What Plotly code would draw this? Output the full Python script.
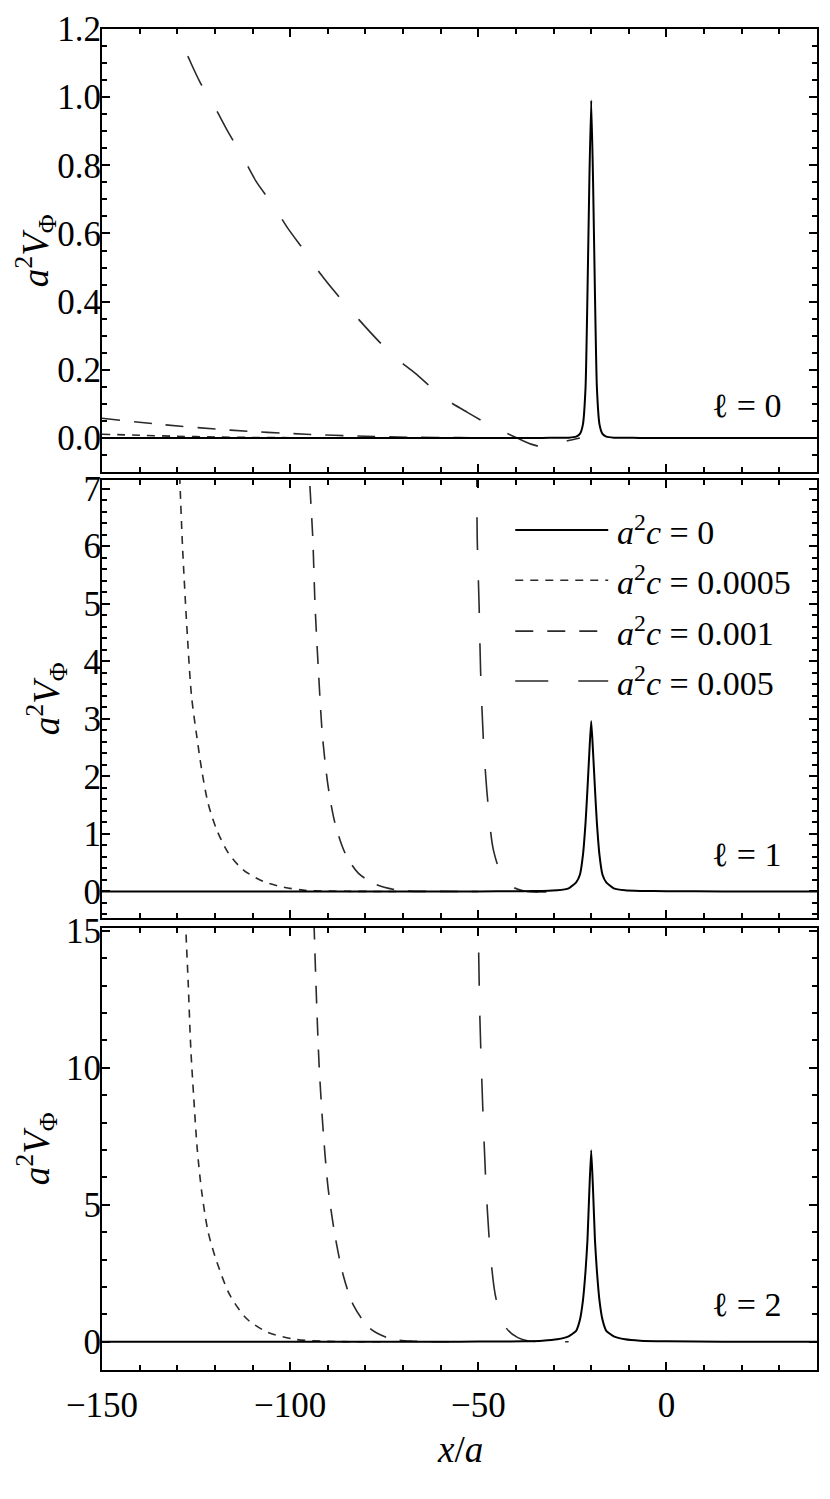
import plotly.graph_objects as go
from plotly.subplots import make_subplots

# ---- data ----
# a^2 c = 0 curves (barrier peak at x/a = -20)
x_peak = [-150, -100, -70, -55, -45, -38, -33, -29, -26, -24, -23, -22.2, -21.5, -21.0, -20.5,
          -20, -19.5, -19.0, -18.5, -17.8, -17, -16, -14, -11, -7, 0, 15, 40]
v0_l0 = [0, 0, 0, 0, 0, 0, 0.0002, 0.0005, 0.001, 0.004, 0.012, 0.04, 0.15, 0.42, 0.75,
         0.99, 0.75, 0.42, 0.15, 0.04, 0.012, 0.004, 0.001, 0.0005, 0.0002, 0, 0, 0]
v0_l1 = [0, 0.0005, 0.001, 0.001, 0.002, 0.004, 0.01, 0.02, 0.055, 0.16, 0.29, 0.63, 1.2, 1.78, 2.41,
         2.96, 2.41, 1.78, 1.2, 0.63, 0.29, 0.16, 0.055, 0.02, 0.01, 0.004, 0.001, 0]
v0_l2 = [0, 0.001, 0.0025, 0.005, 0.01, 0.02, 0.04, 0.09, 0.2, 0.4, 0.8, 1.5, 2.6, 3.7, 5.5,
         6.99, 5.5, 3.7, 2.6, 1.5, 0.8, 0.4, 0.2, 0.09, 0.04, 0.02, 0.005, 0.001]

# l = 0, a^2 c > 0
x_l0_c1 = [-150, -140, -130, -120, -110, -100, -90, -70, -40]
v_l0_c1 = [0.011, 0.008, 0.005, 0.003, 0.0015, 0.0008, 0.0003, 0.0001, 0]
x_l0_c2 = [-150, -134.6, -115.9, -95.8, -80, -67, -55, -45]
v_l0_c2 = [0.058, 0.040, 0.023, 0.011, 0.005, 0.002, 0.001, 0]
x_l0_c3 = [-134, -130.4, -127.1, -124.0, -120.0, -116.5, -112.6, -109.0, -104.4, -100.6, -95.8,
           -91.7, -86.7, -81.8, -76.3, -71.3, -66.8, -59.6, -52.9, -46.6, -39.7, -36, -33, -30,
           -27.5, -25, -23]
v_l0_c3 = [1.29, 1.2, 1.118, 1.045, 0.970, 0.898, 0.825, 0.752, 0.681, 0.615, 0.543,
           0.478, 0.410, 0.348, 0.282, 0.229, 0.190, 0.121, 0.075, 0.036, 0.0, -0.018, -0.026, -0.022,
           -0.012, -0.005, 0]

# l = 1
x_l1_c1 = [-129.85, -129.3, -128.6, -127.3, -126.2, -124.8, -123.5, -121.8, -119.5, -116.4, -112.5,
           -107.1, -101.8, -95.6, -85, -70]
v_l1_c1 = [8.0, 7.12, 5.99, 4.43, 3.39, 2.69, 2.11, 1.53, 1.07, 0.667, 0.377, 0.174, 0.076, 0.017,
           0.003, 0]
x_l1_c2 = [-95.0, -94.8, -94.0, -93.4, -92.5, -91.4, -89.9, -88.1, -85.4, -81.9, -77.0, -70.8, -60, -50]
v_l1_c2 = [7.6, 7.12, 6.16, 5.0, 3.85, 2.69, 1.82, 1.19, 0.667, 0.319, 0.116, 0.017, 0.002, 0]
x_l1_c3 = [-50.5, -50.4, -50.3, -49.8, -49.4, -48.7, -47.6, -46.0, -43.4, -40.3, -36.7, -33, -29, -25]
v_l1_c3 = [7.6, 7.12, 6.16, 5.0, 3.85, 2.69, 1.65, 0.724, 0.233, 0.059, -0.005, -0.01, -0.005, 0]

# l = 2
x_l2_c1 = [-128.0, -127.7, -127.1, -126.4, -125.6, -124.7, -123.5, -121.8, -119.5, -116.0, -111.6,
           -106.2, -99.2, -91.2, -75]
v_l2_c1 = [16.5, 15.0, 13.12, 10.69, 8.87, 7.05, 5.47, 4.01, 2.92, 1.70, 0.85, 0.36, 0.10, 0.02, 0]
x_l2_c2 = [-93.9, -93.6, -93.0, -92.3, -91.2, -89.9, -88.1, -85.9, -83.2, -78.8, -73.5, -67.3, -55]
v_l2_c2 = [16.5, 15.0, 12.5, 10.08, 7.65, 5.59, 3.89, 2.43, 1.34, 0.49, 0.12, 0.02, 0]
x_l2_c3 = [-50.2, -50.0, -49.6, -48.9, -48.0, -46.9, -45.3, -42.5, -39.5, -36.7, -32, -26]
v_l2_c3 = [16.5, 15.0, 11.9, 8.87, 5.83, 3.40, 1.58, 0.49, 0.15, 0.03, 0, 0]

legend_labels = ["0", "0.0005", "0.001", "0.005"]
ell_labels = ["ℓ = 0", "ℓ = 1", "ℓ = 2"]

# ---- styles ----
FONT = "'Liberation Serif', 'DejaVu Serif', 'Times New Roman', serif"
DASHES = ["solid", "8px,7px", "18px,14px", "33px,30px"]
COLORS = ["#000000", "#2a2a2a", "#2a2a2a", "#2a2a2a"]
WIDTHS = [2.0, 1.6, 1.6, 1.6]

fig = make_subplots(rows=3, cols=1, shared_xaxes=True, vertical_spacing=0.01)

panels = [
    (x_peak, v0_l0, [(x_l0_c1, v_l0_c1), (x_l0_c2, v_l0_c2), (x_l0_c3, v_l0_c3)]),
    (x_peak, v0_l1, [(x_l1_c1, v_l1_c1), (x_l1_c2, v_l1_c2), (x_l1_c3, v_l1_c3)]),
    (x_peak, v0_l2, [(x_l2_c1, v_l2_c1), (x_l2_c2, v_l2_c2), (x_l2_c3, v_l2_c3)]),
]
for row, (xs, vs, others) in enumerate(panels, start=1):
    for k, (xx, yy) in enumerate(others, start=1):
        fig.add_trace(go.Scatter(x=xx, y=yy, mode="lines", showlegend=False,
                                 line=dict(color=COLORS[k], width=WIDTHS[k], dash=DASHES[k],
                                           shape="spline", smoothing=0.8)),
                      row=row, col=1)
    fig.add_trace(go.Scatter(x=xs, y=vs, mode="lines", showlegend=False,
                             line=dict(color=COLORS[0], width=WIDTHS[0], shape="spline", smoothing=0.5)),
                  row=row, col=1)

# axes
axis_common = dict(showline=True, linewidth=2.2, linecolor="black", mirror="allticks",
                   ticks="inside", ticklen=8, tickwidth=1.8, tickcolor="black",
                   showgrid=False, zeroline=False, automargin=False,
                   tickfont=dict(family=FONT, size=35, color="black"))
fig.update_xaxes(range=[-150, 40], tick0=0, dtick=50,
                 minor=dict(ticks="inside", ticklen=5, tickwidth=1.5, dtick=10, tickcolor="black"),
                 **axis_common)
fig.update_xaxes(ticklabelstandoff=3, row=3, col=1)

y_ranges = [[-0.1, 1.2], [-0.46, 7.15], [-1.03, 15.1]]
y_dticks = [0.2, 1, 5]
y_minor = [0.05, 0.2, 1]
y_formats = [".1f", "d", "d"]
y_domains = [[0.6696, 1.0], [0.3371, 0.6637], [0.0, 0.3296]]
for i in range(3):
    fig.update_yaxes(range=y_ranges[i], tick0=0, dtick=y_dticks[i], tickformat=y_formats[i],
                     minor=dict(ticks="inside", ticklen=5, tickwidth=1.5, dtick=y_minor[i],
                                tickcolor="black"),
                     domain=y_domains[i], ticklabelstandoff=-8,
                     row=i + 1, col=1, **axis_common)

# axis titles (placed as annotations so the margins stay fixed)
ytitle = "<i>a</i><sup>2</sup><i>V</i><sub>Φ</sub>"
ytitle_x = [-0.094, -0.078, -0.092]
for i in range(3):
    fig.add_annotation(text=ytitle, xref="paper", yref="paper", x=ytitle_x[i],
                       y=sum(y_domains[i]) / 2, textangle=-90, showarrow=False,
                       xanchor="center", yanchor="middle",
                       font=dict(family=FONT, size=37, color="black"))
fig.add_annotation(text="<i>x</i>/<i>a</i>", xref="paper", yref="paper", x=0.5, y=-0.059,
                   showarrow=False, xanchor="center", yanchor="middle",
                   font=dict(family=FONT, size=37, color="black"))

# panel labels
ell_y = [0.151, 0.144, 0.149]
for i, lab in enumerate(ell_labels):
    ax = "" if i == 0 else str(i + 1)
    fig.add_annotation(text=lab, xref=f"x{ax} domain", yref=f"y{ax} domain", x=0.902, y=ell_y[i],
                       showarrow=False, xanchor="center", yanchor="middle",
                       font=dict(family=FONT, size=34, color="black"))

# legend (drawn in the l = 1 panel)
leg_y = [0.886, 0.771, 0.655, 0.541]
for k, lab in enumerate(legend_labels):
    fig.add_shape(type="line", xref="x2 domain", yref="y2 domain", x0=0.578, x1=0.708,
                  y0=leg_y[k], y1=leg_y[k],
                  line=dict(color=COLORS[k], width=WIDTHS[k], dash=DASHES[k]))
    fig.add_annotation(text=f"<i>a</i><sup>2</sup><i>c</i> = {lab}", xref="x2 domain", yref="y2 domain",
                       x=0.718, y=leg_y[k], showarrow=False, xanchor="left", yanchor="middle",
                       font=dict(family=FONT, size=34, color="black"))

# the page body adds an 8 px margin, so the figure is 8 px smaller and the margins shifted
fig.update_layout(width=822, height=1491, margin=dict(l=94, r=13, t=21, b=129),
                  plot_bgcolor="white", paper_bgcolor="white", showlegend=False,
                  font=dict(family=FONT, size=34, color="black"))

fig.write_html("out.html")
